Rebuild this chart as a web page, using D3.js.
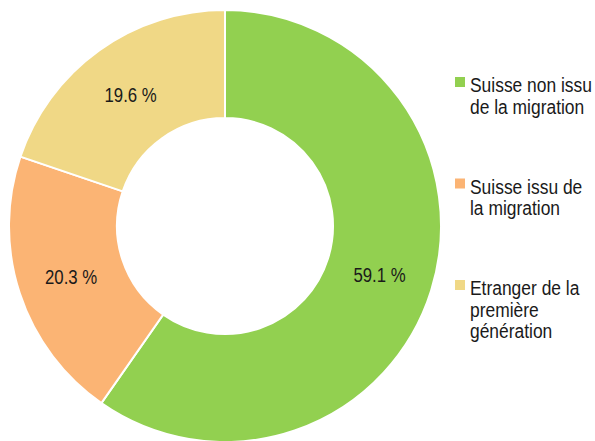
<!DOCTYPE html>
<html>
<head>
<meta charset="utf-8">
<script src="https://cdn.jsdelivr.net/npm/d3@7"></script>
<style>
  body { margin: 0; background: #fff; }
  svg { display: block; }
  text { font-family: "Liberation Sans", Arial, sans-serif; fill: #1a1a1a; }
</style>
</head>
<body>
<svg width="595" height="441"></svg>
<script>
// data
var categories = ['Suisse non issu de la migration', 'Suisse issu de la migration', 'Etranger de la première génération'];
var values = [59.1, 20.3, 19.6];
var legendLines = [['Suisse non issu', 'de la migration'], ['Suisse issu de', 'la migration'], ['Etranger de la', 'première', 'génération']];
var colors = ['#92d050', '#fbb474', '#f0d886'];

var svg = d3.select('svg');
var cx = 225, cy = 226,
    outerR = 216, innerR = 108,
    labelSqueeze = 0.8,   // the text in the picture is narrow
    legendSqueeze = 0.83;

var rows = categories.map(function(c, i) { return { name: c, value: values[i], color: colors[i], lines: legendLines[i] }; });

var pie = d3.pie()
    .sort(null)
    .value(function(d) { return d.value; });

var arc = d3.arc()
    .innerRadius(innerR)
    .outerRadius(outerR);

var g = svg.append('g')
    .attr('transform', 'translate(' + cx + ',' + cy + ')');

var slices = g.selectAll('g.slice')
  .data(pie(rows))
  .enter().append('g')
    .attr('class', 'slice');

slices.append('path')
    .attr('d', arc)
    .attr('fill', function(d) { return d.data.color; })
    .attr('stroke', '#fff')
    .attr('stroke-width', 2);

var fmt = d3.format('.1f');
slices.append('text')
    .attr('transform', function(d) {
        var c = arc.centroid(d);
        return 'translate(' + c[0] + ',' + c[1] + ') scale(' + labelSqueeze + ',1)';
    })
    .attr('text-anchor', 'middle')
    .attr('dy', '0.36em')
    .style('font-size', '21px')
    .text(function(d) { return fmt(d.data.value) + ' %'; });

// legend
var legendX = 455, firstBase = 92, itemStep = 101.5, lineStep = 21.5;
var legend = svg.append('g').attr('class', 'legend');
var items = legend.selectAll('g')
  .data(rows)
  .enter().append('g')
    .attr('transform', function(d, i) { return 'translate(' + legendX + ',' + (firstBase + i * itemStep) + ')'; });

items.append('rect')
    .attr('x', 0)
    .attr('y', -15)
    .attr('width', 10)
    .attr('height', 10)
    .attr('fill', function(d) { return d.color; });

items.each(function(d) {
    var item = d3.select(this);
    d.lines.forEach(function(line, j) {
        item.append('text')
            .attr('transform', 'translate(15,' + (j * lineStep) + ') scale(' + legendSqueeze + ',1)')
            .style('font-size', '21px')
            .text(line);
    });
});
</script>
</body>
</html>
